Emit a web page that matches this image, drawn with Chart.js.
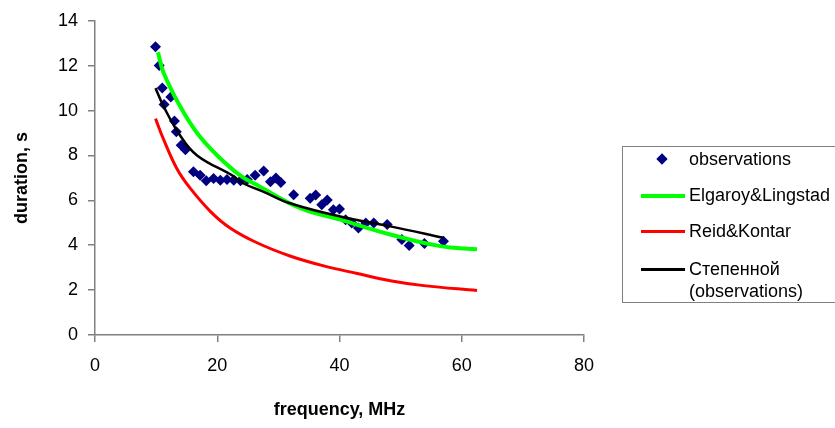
<!DOCTYPE html>
<html>
<head>
<meta charset="utf-8">
<script src="https://cdn.jsdelivr.net/npm/chart.js@4/dist/chart.umd.min.js"></script>
<style>
    body { margin: 0; background: #fff; overflow: hidden; }
    #wrap { position: relative; width: 835px; height: 428px; overflow: hidden; }
    #legend {
        position: absolute; left: 622px; top: 146px; width: 260px; height: 157px;
        border: 1px solid #808080; box-sizing: border-box;
        font-family: "Liberation Sans", Arial, sans-serif; font-size: 18px; color: #000;
    }
    #legend .txt { position: absolute; left: 66px; line-height: 20px; white-space: nowrap; }
    #legend .ln { position: absolute; left: 18px; width: 44px; }
    #legend .dia {
        position: absolute; left: 35px; top: 8px; width: 8px; height: 8px;
        background: #000080; transform: rotate(45deg);
    }
</style>
</head>
<body>
<div id="wrap">
    <canvas id="chart" width="835" height="428"></canvas>
    <div id="legend">
        <div class="dia"></div>
        <div class="txt" style="top:2px">observations</div>
        <div class="ln" style="top:47px;height:4px;background:#00ff00"></div>
        <div class="txt" style="top:38px">Elgaroy&amp;Lingstad</div>
        <div class="ln" style="top:83px;height:3px;background:#ff0000"></div>
        <div class="txt" style="top:74px">Reid&amp;Kontar</div>
        <div class="ln" style="top:121px;height:3px;background:#000"></div>
        <div class="txt" style="top:112px">Степенной</div>
        <div class="txt" style="top:134px">(observations)</div>
    </div>
</div>
<script>
// observed burst durations vs frequency
const obsFreq = [9.9, 10.5, 11.0, 11.3, 12.4, 13.0, 13.3, 14.1, 14.8, 16.1,
    17.2, 18.2, 19.4, 20.5, 21.6, 22.7, 23.8, 24.9, 26.2, 27.6,
    28.7, 29.6, 30.4, 32.5, 35.2, 36.1, 37.1, 38.0, 39.0, 40.0,
    41.0, 42.0, 43.1, 44.3, 45.6, 47.8, 50.2, 51.4, 53.9, 57.0];
const obsDur = [12.84, 12.01, 11.01, 10.27, 10.60, 9.54, 9.06, 8.45, 8.25, 7.27,
    7.12, 6.87, 6.97, 6.90, 6.93, 6.90, 6.87, 6.93, 7.12, 7.31,
    6.83, 7.00, 6.80, 6.25, 6.09, 6.24, 5.80, 6.02, 5.58, 5.61,
    5.14, 4.99, 4.77, 4.99, 4.99, 4.92, 4.26, 3.99, 4.08, 4.18];

// model curves
const elgFreq = [10.3, 11.2, 13.9, 16.7, 20.0, 23.8, 26.5, 33.6, 40.1, 48.3, 56.5, 62.5];
const elgDur = [12.6, 11.7, 10.2, 9.0, 8.0, 7.1, 6.68, 5.65, 5.14, 4.48, 3.96, 3.82];

const reidFreq = [9.9, 11.2, 13.4, 15.6, 18.9, 22.1, 26.5, 31.9, 37.4, 42.9, 48.3, 53.8, 62.5];
const reidDur = [9.64, 8.73, 7.41, 6.53, 5.50, 4.77, 4.11, 3.52, 3.08, 2.74, 2.42, 2.20, 1.98];

// power-law trend of the observations
const fitFreq = [9.9, 11.2, 13.9, 16.7, 22.5, 24.3, 27.6, 31.9, 40.1, 48.3, 57.0];
const fitDur = [11.0, 10.2, 8.9, 8.0, 7.1, 6.75, 6.38, 5.87, 5.28, 4.84, 4.33];

const xTicks = [0, 20, 40, 60, 80];
const yTicks = [0, 2, 4, 6, 8, 10, 12, 14];

const pts = (xs, ys) => xs.map((x, i) => ({ x, y: ys[i] }));

const curve = (data, color, width, order) => ({
    data,
    showLine: true,
    borderColor: color,
    borderWidth: width,
    pointRadius: 0,
    tension: 0.4,
    fill: false,
    order
});

const tickFont = { family: '"Liberation Sans", Arial, sans-serif', size: 18 };
const titleFont = { family: '"Liberation Sans", Arial, sans-serif', size: 18, weight: 'bold' };

new Chart(document.getElementById('chart'), {
    type: 'scatter',
    data: {
        datasets: [
            {
                label: 'observations',
                data: pts(obsFreq, obsDur),
                pointStyle: 'rectRot',
                pointRadius: 5.5,
                backgroundColor: '#000080',
                borderColor: '#000080',
                borderWidth: 0,
                order: 4
            },
            curve(pts(elgFreq, elgDur), '#00ff00', 4, 3),
            curve(pts(reidFreq, reidDur), '#ff0000', 3, 2),
            curve(pts(fitFreq, fitDur), '#000000', 2.5, 1)
        ]
    },
    options: {
        responsive: false,
        animation: false,
        layout: { padding: { top: 17, right: 251, left: 0, bottom: 0 } },
        plugins: { legend: { display: false }, tooltip: { enabled: false } },
        scales: {
            x: {
                type: 'linear', min: 0, max: 80,
                afterFit: s => { s.height = 93; },
                afterBuildTicks: s => { s.ticks = xTicks.map(v => ({ value: v })); },
                ticks: { font: tickFont, color: '#000', padding: 13 },
                grid: { drawOnChartArea: false, drawTicks: true, tickLength: 7, color: '#808080', lineWidth: 1.5 },
                border: { color: '#808080', width: 1.5 },
                title: { display: true, text: 'frequency, MHz', font: titleFont, color: '#000', padding: { bottom: 7 } }
            },
            y: {
                min: 0, max: 14,
                afterFit: s => { s.width = 95; },
                afterBuildTicks: s => { s.ticks = yTicks.map(v => ({ value: v })); },
                ticks: { font: tickFont, color: '#000', padding: 10 },
                grid: { drawOnChartArea: false, drawTicks: true, tickLength: 7, color: '#808080', lineWidth: 1.5 },
                border: { color: '#808080', width: 1.5 },
                title: { display: true, text: 'duration, s', font: titleFont, color: '#000', padding: { top: 11 } }
            }
        }
    }
});
</script>
</body>
</html>
